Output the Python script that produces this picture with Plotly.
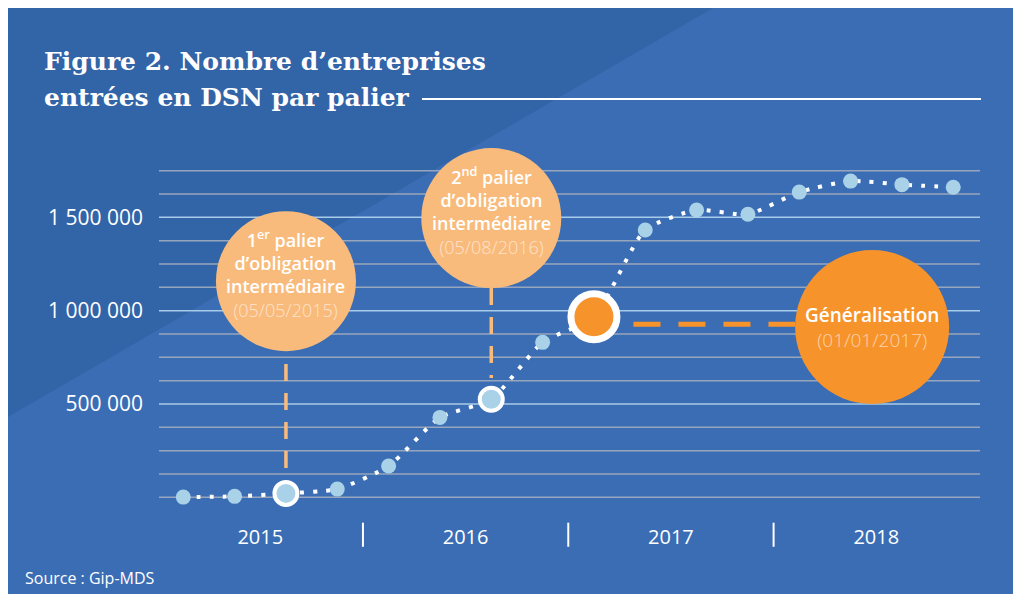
import plotly.graph_objects as go

# ---------------- data ----------------
quarters = ["T1 2015", "T2 2015", "T3 2015", "T4 2015",
            "T1 2016", "T2 2016", "T3 2016", "T4 2016",
            "T1 2017", "T2 2017", "T3 2017", "T4 2017",
            "T1 2018", "T2 2018", "T3 2018", "T4 2018"]
entreprises = [1000, 5000, 21000, 44000,
               168000, 428000, 525000, 830000,
               967000, 1432000, 1539000, 1516000,
               1635000, 1694000, 1675000, 1661000]
years = ["2015", "2016", "2017", "2018"]
y_tick_vals = [500000, 1000000, 1500000]
y_tick_text = ["500 000", "1 000 000", "1 500 000"]
grid_vals = [0, 125000, 250000, 375000, 500000, 625000, 750000, 875000,
             1000000, 1125000, 1250000, 1375000, 1500000, 1625000, 1750000]
palier_idx = [2, 6]          # 1er et 2nd palier d'obligation
general_idx = 8              # généralisation

# ---------------- styles / layout ----------------
OFF = 8                      # page body margin
W, H = 1021 - OFF, 594 - OFF
BLUE = "#3b6db5"
DARK = "#3264a8"
LIGHT = "#a9d2e8"
PEACH = "#f9bb7c"
ORANGE = "#f7932b"
FONT = "Open Sans"
DATE_STYLE = "font-weight:300;color:rgba(255,255,255,0.6)"

x_idx = list(range(len(quarters)))
x_range = [-3.415, 16.320]
y_range = [-518000, 2621200]

def px_x(p):  # reference pixel -> paper
    return (p - OFF) / W

def px_y(p):
    return 1 - (p - OFF) / H

sizes, colors, lw, lc = [], [], [], []
for i in x_idx:
    if i == general_idx:
        sizes.append(46); colors.append(ORANGE); lw.append(7); lc.append("white")
    elif i in palier_idx:
        sizes.append(23); colors.append(LIGHT); lw.append(4); lc.append("white")
    else:
        sizes.append(15); colors.append(LIGHT); lw.append(0); lc.append(LIGHT)

fig = go.Figure()

# bubbles (annotation circles)
bubble_x = [2, 6, 13.42]
bubble_y = [1158000, 1496000, 912000]
bubble_size = [140, 140, 154]
bubble_col = [PEACH, PEACH, ORANGE]
fig.add_trace(go.Scatter(
    x=bubble_x, y=bubble_y, mode="markers", hoverinfo="skip",
    marker=dict(size=bubble_size, color=bubble_col, line=dict(width=0), opacity=1),
    cliponaxis=False, showlegend=False))

# dotted line
fig.add_trace(go.Scatter(
    x=x_idx, y=entreprises, mode="lines", hoverinfo="skip",
    line=dict(color="white", width=4, dash="4px,9px", shape="spline", smoothing=0.6),
    cliponaxis=False, showlegend=False))

# points
fig.add_trace(go.Scatter(
    x=x_idx, y=entreprises, mode="markers", text=quarters,
    marker=dict(size=sizes, color=colors, line=dict(width=lw, color=lc), opacity=1),
    cliponaxis=False, showlegend=False))

shapes = []
# background
shapes.append(dict(type="rect", xref="paper", yref="paper", x0=0, x1=1, y0=0, y1=1,
                   fillcolor=BLUE, line=dict(width=0), layer="below"))
shapes.append(dict(type="path", xref="paper", yref="paper",
                   path=f"M 0,{px_y(417)} L {px_x(713)},1 L 0,1 Z",
                   fillcolor=DARK, line=dict(width=0), layer="below"))
# gridlines
for v in grid_vals:
    col = "#a8cce9" if v % 500000 == 0 and v > 0 else "#98a6bd"
    shapes.append(dict(type="line", xref="paper", yref="y",
                       x0=px_x(159), x1=px_x(980), y0=v, y1=v,
                       line=dict(color=col, width=1.5), layer="below"))
# title rule
shapes.append(dict(type="line", xref="paper", yref="paper",
                   x0=px_x(422), x1=px_x(981), y0=px_y(99), y1=px_y(99),
                   line=dict(color="white", width=2), layer="below"))
# dashed connectors
shapes.append(dict(type="line", xref="x", yref="y", x0=2, x1=2, y0=714000, y1=157000,
                   line=dict(color=PEACH, width=3.5, dash="17px,12px"), layer="below"))
shapes.append(dict(type="line", xref="x", yref="y", x0=6, x1=6, y0=1121000, y1=639000,
                   line=dict(color=PEACH, width=3.5, dash="17px,12px"), layer="below"))
shapes.append(dict(type="line", xref="x", yref="y", x0=8.77, x1=11.96, y0=926800, y1=926800,
                   line=dict(color=ORANGE, width=5, dash="27px,18px"), layer="below"))
# year separators
n_per_year = len(quarters) // len(years)
for k in range(1, len(years)):
    xs = k * n_per_year - 0.5
    shapes.append(dict(type="line", xref="x", yref="y", x0=xs, x1=xs,
                       y0=-136000, y1=-265000,
                       line=dict(color="white", width=2), layer="below"))

year_pos = [sum(x_idx[k * n_per_year:(k + 1) * n_per_year]) / n_per_year for k in range(len(years))]

annotations = []
annotations.append(dict(xref="paper", yref="paper", x=px_x(42), y=px_y(61),
                        xanchor="left", yanchor="middle", showarrow=False,
                        text="<b>Figure 2. Nombre d’entreprises</b>",
                        font=dict(family="DejaVu Serif", size=25, color="white")))
annotations.append(dict(xref="paper", yref="paper", x=px_x(42), y=px_y(97),
                        xanchor="left", yanchor="middle", showarrow=False,
                        text="<b>entrées en DSN par palier</b>",
                        font=dict(family="DejaVu Serif", size=25, color="white")))

annotations.append(dict(
    xref="x", yref="y", x=2, y=1158000, yshift=7, showarrow=False,
    text=("1<sup>er</sup> palier<br>d’obligation<br>intermédiaire<br>"
          f"<span style='{DATE_STYLE}'>(05/05/2015)</span>"),
    font=dict(family=FONT, size=18, color="white", weight=600)))
annotations.append(dict(
    xref="x", yref="y", x=6, y=1496000, yshift=7, showarrow=False,
    text=("2<sup>nd</sup> palier<br>d’obligation<br>intermédiaire<br>"
          f"<span style='{DATE_STYLE}'>(05/08/2016)</span>"),
    font=dict(family=FONT, size=18, color="white", weight=600)))
annotations.append(dict(
    xref="x", yref="y", x=13.42, y=912000, yshift=0, showarrow=False,
    text=f"Généralisation<br><span style='{DATE_STYLE}'>(01/01/2017)</span>",
    font=dict(family=FONT, size=19, color="white", weight=600)))

annotations.append(dict(xref="paper", yref="paper", x=px_x(23), y=px_y(578),
                        xanchor="left", yanchor="middle", showarrow=False,
                        text="Source : Gip-MDS",
                        font=dict(family=FONT, size=16, color="white")))

fig.update_layout(
    width=W, height=H,
    margin=dict(l=0, r=0, t=0, b=0),
    paper_bgcolor="white", plot_bgcolor="rgba(0,0,0,0)",
    shapes=shapes, annotations=annotations,
    font=dict(family=FONT, color="white"),
    showlegend=False,
    xaxis=dict(range=x_range, anchor="free", position=(H - (523 - OFF)) / H,
               tickvals=year_pos, ticktext=years, showgrid=False, zeroline=False,
               showline=False, ticks="", tickfont=dict(family=FONT, size=20, color="white")),
    yaxis=dict(range=y_range, anchor="free", position=px_x(159),
               tickvals=y_tick_vals, ticktext=y_tick_text, showgrid=False, zeroline=False,
               showline=False, ticks="", ticklabelstandoff=16,
               tickfont=dict(family=FONT, size=21, color="white")),
)

fig.write_html("out.html")
